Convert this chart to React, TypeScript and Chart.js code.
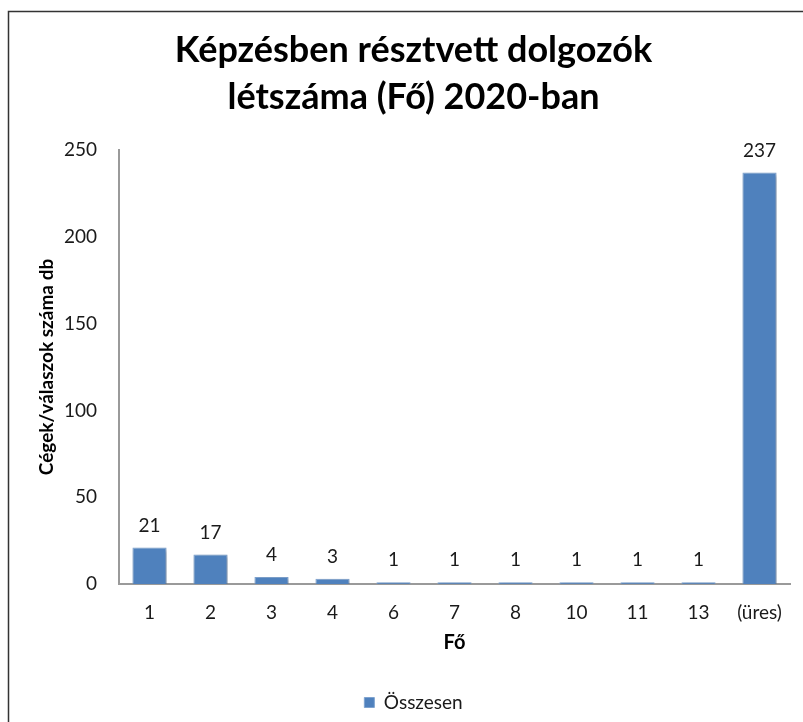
import React, { useEffect, useRef } from "react";
import { Chart, registerables } from "chart.js";

Chart.register(...registerables);

const titleLines = ["Képzésben résztvett dolgozók", "létszáma (Fő) 2020-ban"];
const categories = ["1", "2", "3", "4", "6", "7", "8", "10", "11", "13", "(üres)"];
const seriesName = "Összesen";
const values = [21, 17, 4, 3, 1, 1, 1, 1, 1, 1, 237];
const yTitle = "Cégek/válaszok száma db";
const xTitle = "Fő";
const yMin = 0;
const yMax = 250;
const yStep = 50;

const FONT = "Lato, 'Open Sans', sans-serif";
const BAR = "#4F81BD";

const frame = {
  id: "frame",
  beforeDraw(chart: any) {
    const ctx = chart.ctx;
    ctx.save();
    ctx.fillStyle = "#ffffff";
    ctx.fillRect(0, 0, chart.width, chart.height);
    ctx.strokeStyle = "#333";
    ctx.lineWidth = 1.5;
    ctx.beginPath();
    ctx.moveTo(8.5, chart.height + 5);
    ctx.lineTo(8.5, 11.5);
    ctx.lineTo(chart.width + 5, 11.5);
    ctx.stroke();
    ctx.restore();
  },
};

const shadow = {
  id: "barShadow",
  beforeDatasetDraw(chart: any) {
    const ctx = chart.ctx;
    ctx.save();
    ctx.shadowColor = "rgba(0,0,0,0.28)";
    ctx.shadowBlur = 4;
    ctx.shadowOffsetX = 2;
    ctx.shadowOffsetY = 2;
  },
  afterDatasetDraw(chart: any) {
    chart.ctx.restore();
  },
};

const dataLabels = {
  id: "dataLabels",
  afterDatasetsDraw(chart: any) {
    const ctx = chart.ctx;
    const meta = chart.getDatasetMeta(0);
    const data = chart.data.datasets[0].data;
    ctx.save();
    ctx.font = `19px ${FONT}`;
    ctx.fillStyle = "#1a1a1a";
    ctx.textAlign = "center";
    ctx.textBaseline = "middle";
    meta.data.forEach((bar: any, i: number) => {
      ctx.fillText(String(data[i]), bar.x, bar.y - 22);
    });
    ctx.restore();
  },
};

export default function App() {
  const ref = useRef<HTMLCanvasElement>(null);

  useEffect(() => {
    document.body.style.margin = "0";
    document.body.style.overflow = "hidden";
    const canvas = ref.current;
    if (!canvas) return;
    const chart = new Chart(canvas, {
      type: "bar",
      data: {
        labels: categories,
        datasets: [
          {
            label: seriesName,
            data: values,
            backgroundColor: BAR,
            borderColor: "#7FA3CF",
            borderWidth: 1,
            barPercentage: 0.56,
            categoryPercentage: 1,
          },
        ],
      },
      options: {
        responsive: false,
        animation: false,
        events: [],
        layout: { padding: { left: 37, right: 13, top: 0, bottom: 0 } },
        plugins: {
          tooltip: { enabled: false },
          title: {
            display: true,
            text: titleLines,
            color: "#000",
            font: { family: FONT, size: 36, weight: "bold", lineHeight: 47 / 36 },
            padding: { top: 26.5, bottom: 29.5 },
          },
          legend: {
            display: true,
            position: "bottom",
            labels: {
              boxWidth: 10,
              boxHeight: 10,
              color: "#1a1a1a",
              font: { family: FONT, size: 19 },
              padding: 10,
            },
          },
        },
        scales: {
          x: {
            grid: { display: false, drawTicks: false },
            border: { display: true, color: "#9a9a9a", width: 2 },
            ticks: {
              color: "#1a1a1a",
              font: { family: FONT, size: 19 },
              padding: 17,
              maxRotation: 0,
              autoSkip: false,
            },
            title: {
              display: true,
              text: xTitle,
              color: "#000",
              font: { family: FONT, size: 20, weight: "bold" },
              padding: { top: 0, bottom: 28 },
            },
            afterFit(scale: any) {
              scale.height = 99;
            },
          },
          y: {
            min: yMin,
            max: yMax,
            grid: { display: false, drawTicks: false },
            border: { display: true, color: "#9a9a9a", width: 2 },
            ticks: {
              stepSize: yStep,
              color: "#1a1a1a",
              font: { family: FONT, size: 19 },
              padding: 22,
            },
            title: {
              display: true,
              text: yTitle,
              color: "#000",
              font: { family: FONT, size: 19, weight: "bold", lineHeight: 1 },
              padding: { top: 0, bottom: 0 },
            },
            afterFit(scale: any) {
              scale.width = 82;
            },
          },
        },
      },
      plugins: [frame, shadow, dataLabels],
    });
    return () => chart.destroy();
  }, []);

  return (
    <div style={{ width: 803, height: 722 }}>
      <canvas ref={ref} width={803} height={722} style={{ display: "block" }} />
    </div>
  );
}
